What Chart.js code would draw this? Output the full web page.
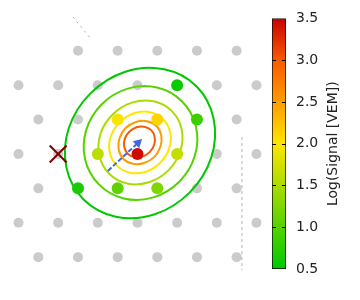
<!DOCTYPE html>
<html>
<head>
<meta charset="utf-8">
<script src="https://cdn.jsdelivr.net/npm/chart.js@4.4.1/dist/chart.umd.min.js"></script>
<style>
  html, body { margin: 0; padding: 0; background: #fff; }
  #wrap { position: relative; width: 360px; height: 300px; }
  canvas { position: absolute; top: 0; }
  #map { left: 0; }
  #cbar { left: 260px; }
</style>
</head>
<body>
<div id="wrap">
  <canvas id="map" width="360" height="300"></canvas>
  <canvas id="cbar" width="100" height="300"></canvas>
</div>
<script>
// ── Station grid (km), one row of x per row y ──
const rowY = [3.90, 2.60, 1.30, 0, -1.30, -2.60, -3.90];
const rowX = [
  [-2.25, -0.75, 0.75, 2.25, 3.75],
  [-4.5, -3, -1.5, 0, 1.5, 3, 4.5],
  [-3.75, -2.25, -0.75, 0.75, 2.25, 3.75],
  [-4.5, -3, -1.5, 0, 1.5, 3, 4.5],
  [-3.75, -2.25, -0.75, 0.75, 2.25, 3.75],
  [-4.5, -3, -1.5, 0, 1.5, 3, 4.5],
  [-3.75, -2.25, -0.75, 0.75, 2.25, 3.75],
];

// ── Triggered stations ──
const hitX    = [0, -0.75, 0.75, -1.5, 1.5, 1.5, 2.25, -2.25, -0.75, 0.75];
const hitY    = [0, 1.30, 1.30, 0, 0, 2.60, 1.30, -1.30, -1.30, -1.30];
const hitLogS = [3.45, 1.95, 2.12, 1.60, 1.65, 0.55, 0.85, 0.65, 1.05, 1.25];

// ── Reconstructed core + shower axis ──
const coreX = [-3];
const coreY = [0];
const arrowX = [-1.12, 0.02];
const arrowY = [-0.64, 0.42];

// ── Array border segments ──
const edgeAX = [-2.44, -1.76], edgeAY = [5.18, 4.35];
const edgeBX = [3.95, 3.95],   edgeBY = [0.64, -4.39];

// ── Signal contours (log VEM), points in km ──
const contourLevels = [0.5, 1.0, 1.5, 2.0, 2.5, 3.0];
const c050 = [[2.23,2.56],[2.88,1.33],[2.79,-0.14],[1.97,-1.46],[0.65,-2.28],[-0.82,-2.37],[-2.04,-1.72],[-2.69,-0.50],[-2.60,0.97],[-1.78,2.29],[-0.46,3.11],[1.01,3.20]];
const c100 = [[1.68,1.99],[2.21,1.04],[2.17,-0.07],[1.58,-1.05],[0.60,-1.64],[-0.52,-1.68],[-1.46,-1.15],[-1.98,-0.21],[-1.94,0.90],[-1.35,1.88],[-0.37,2.47],[0.74,2.51]];
const c150 = [[1.30,1.62],[1.67,0.94],[1.62,0.11],[1.17,-0.62],[0.43,-1.07],[-0.39,-1.12],[-1.07,-0.75],[-1.44,-0.07],[-1.40,0.76],[-0.94,1.49],[-0.21,1.94],[0.61,1.99]];
const c200 = [[0.97,1.31],[1.24,0.81],[1.20,0.21],[0.86,-0.33],[0.32,-0.67],[-0.28,-0.71],[-0.78,-0.44],[-1.05,0.06],[-1.01,0.66],[-0.67,1.20],[-0.13,1.54],[0.47,1.58]];
const c250 = [[0.72,1.06],[0.90,0.70],[0.87,0.28],[0.64,-0.11],[0.25,-0.34],[-0.17,-0.37],[-0.53,-0.19],[-0.71,0.17],[-0.68,0.59],[-0.45,0.98],[-0.06,1.21],[0.36,1.24]];
const c300 = [[0.52,0.90],[0.65,0.64],[0.63,0.34],[0.46,0.07],[0.19,-0.10],[-0.11,-0.12],[-0.37,0.01],[-0.50,0.27],[-0.48,0.57],[-0.31,0.84],[-0.04,1.01],[0.26,1.03]];
const contours = [c050, c100, c150, c200, c250, c300];

// ── Colour bar ──
const cbarTicks  = [0.5, 1.0, 1.5, 2.0, 2.5, 3.0, 3.5];
const cbarLabel  = 'Log(Signal [VEM])';
const cmapVals   = [0.5, 2.0, 2.5, 3.0, 3.5];
const cmapColors = ['#00c800', '#ffe600', '#ff9c00', '#f85a00', '#c80000'];

const GRAY = '#cbcbcb';
Chart.defaults.font.family = '"DejaVu Sans", sans-serif';

function hexRgb(h) {
  return [1, 3, 5].map(i => parseInt(h.slice(i, i + 2), 16));
}
function cmap(v) {
  if (v <= cmapVals[0]) return cmapColors[0];
  for (let i = 1; i < cmapVals.length; i++) {
    if (v <= cmapVals[i]) {
      const t = (v - cmapVals[i-1]) / (cmapVals[i] - cmapVals[i-1]);
      const a = hexRgb(cmapColors[i-1]), b = hexRgb(cmapColors[i]);
      const c = a.map((x, k) => Math.round(x + (b[k] - x) * t));
      return `rgb(${c[0]},${c[1]},${c[2]})`;
    }
  }
  return cmapColors[cmapColors.length - 1];
}

// closed contour lines: let the line element wrap round like a radar line
const closeLoops = {
  id: 'closeLoops',
  afterDatasetUpdate(chart, { index, meta }) {
    if (!chart.data.datasets[index].closed) return;
    const line = meta.dataset;
    if (!line) return;
    line._loop = true;
    line._fullLoop = true;
    delete line._segments;
    line._path = undefined;
    line._pointsUpdated = false;
    line.updateControlPoints(chart.chartArea, 'x');
  }
};

// ── Main map ──
const stations = [];
rowY.forEach((y, r) => rowX[r].forEach(x => stations.push({ x, y })));

const datasets = [
  { data: stations, pointRadius: 5, pointBackgroundColor: GRAY, pointBorderWidth: 0, order: 6 },
  { data: edgeAX.map((x, i) => ({ x, y: edgeAY[i] })), showLine: true, pointRadius: 0,
    borderColor: '#aaaaaa', borderWidth: 1, borderDash: [2, 4], order: 5 },
  { data: edgeBX.map((x, i) => ({ x, y: edgeBY[i] })), showLine: true, pointRadius: 0,
    borderColor: '#b4b4b4', borderWidth: 1, borderDash: [3, 3], order: 5 },
  ...contours.map((c, i) => ({
    data: c.map(([x, y]) => ({ x, y })), closed: true,
    showLine: true, pointRadius: 0, borderColor: cmap(contourLevels[i]),
    borderWidth: 2, tension: 0.35, order: 4
  })),
  { data: hitX.map((x, i) => ({ x, y: hitY[i] })), pointRadius: 6,
    pointBackgroundColor: hitLogS.map(cmap), pointBorderWidth: 0, order: 3 },
  { data: arrowX.map((x, i) => ({ x, y: arrowY[i] })), showLine: true,
    borderColor: '#4169e1', borderWidth: 2, borderDash: [5, 2],
    pointRadius: [0, 5.5], pointStyle: 'triangle', pointBackgroundColor: '#4169e1', pointBorderWidth: 0,
    pointRotation: ctx => {
      const xs = ctx.chart.scales.x, ys = ctx.chart.scales.y;
      if (!xs || !ys) return 0;
      const dx = xs.getPixelForValue(arrowX[1]) - xs.getPixelForValue(arrowX[0]);
      const dy = ys.getPixelForValue(arrowY[1]) - ys.getPixelForValue(arrowY[0]);
      return Math.atan2(dx, -dy) * 180 / Math.PI;
    },
    order: 2 },
  { data: coreX.map((x, i) => ({ x, y: coreY[i] })), pointStyle: 'crossRot', pointRadius: 12,
    pointBorderColor: '#800000', pointBorderWidth: 2, order: 1 },
];

new Chart(document.getElementById('map'), {
  type: 'scatter',
  data: { datasets },
  options: {
    responsive: false, animation: false, events: [],
    layout: { autoPadding: false, padding: { left: 0, right: 98, top: 0, bottom: 0 } },
    plugins: { legend: { display: false }, tooltip: { enabled: false } },
    scales: {
      x: { display: false, min: -5.20, max: 4.71 },
      y: { display: false, min: -5.52, max: 5.82 }
    }
  },
  plugins: [closeLoops]
});

// ── Colour bar ──
const cbarDecor = {
  id: 'cbarDecor',
  afterDatasetsDraw(chart) {
    const { ctx, chartArea: a, scales: { y } } = chart;
    ctx.save();
    ctx.strokeStyle = '#000';
    ctx.lineWidth = 1;
    cbarTicks.forEach(v => {
      if (v <= y.min || v >= y.max) return;
      const py = Math.round(y.getPixelForValue(v)) + 0.5;
      ctx.beginPath();
      ctx.moveTo(a.left, py); ctx.lineTo(a.left + 4, py);
      ctx.moveTo(a.right - 4, py); ctx.lineTo(a.right, py);
      ctx.stroke();
    });
    ctx.translate(73, (a.top + a.bottom) / 2);
    ctx.rotate(-Math.PI / 2);
    ctx.font = '14px "DejaVu Sans"';
    ctx.fillStyle = '#222';
    ctx.textAlign = 'center';
    ctx.textBaseline = 'middle';
    ctx.fillText(cbarLabel, 0, 0);
    ctx.restore();
  }
};

new Chart(document.getElementById('cbar'), {
  type: 'bar',
  data: {
    labels: [''],
    datasets: [{
      data: [[cbarTicks[0], cbarTicks[cbarTicks.length - 1]]],
      backgroundColor: ctx => {
        const a = ctx.chart.chartArea;
        if (!a) return cmapColors[0];
        const g = ctx.chart.ctx.createLinearGradient(0, a.bottom, 0, a.top);
        const lo = cmapVals[0], hi = cmapVals[cmapVals.length - 1];
        cmapVals.forEach((v, i) => g.addColorStop((v - lo) / (hi - lo), cmapColors[i]));
        return g;
      },
      borderColor: '#000', borderWidth: 1, borderSkipped: false,
      barPercentage: 1, categoryPercentage: 1
    }]
  },
  options: {
    responsive: false, animation: false, events: [],
    layout: { autoPadding: false, padding: { left: 12, top: 17, bottom: 31, right: 0 } },
    plugins: { legend: { display: false }, tooltip: { enabled: false } },
    scales: {
      x: { display: false },
      y: {
        position: 'right', min: cbarTicks[0], max: cbarTicks[cbarTicks.length - 1],
        grid: { display: false, drawTicks: false }, border: { display: false },
        ticks: { stepSize: 0.5, padding: 10, color: '#222', font: { size: 14 },
          callback: v => Number(v).toFixed(1) },
        afterFit: s => { s.width = 74; }
      }
    }
  },
  plugins: [cbarDecor]
});
</script>
</body>
</html>
